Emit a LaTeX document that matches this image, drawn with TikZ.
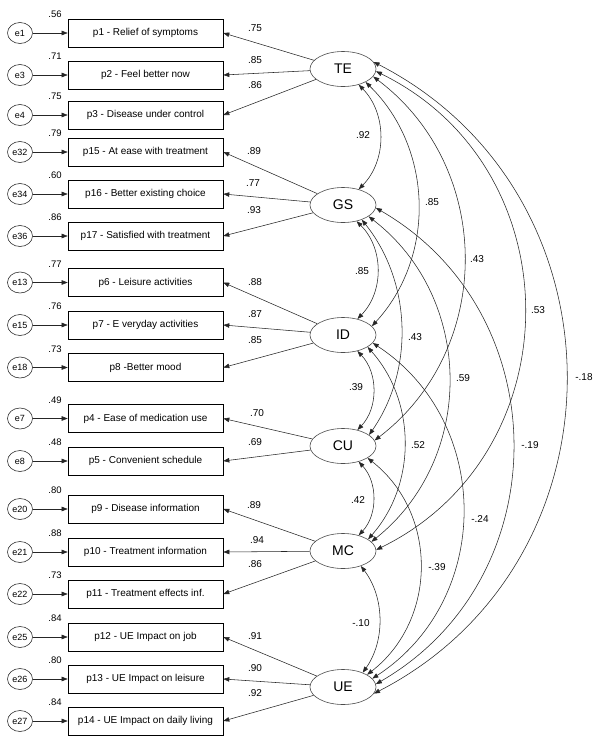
\documentclass[tikz,border=0pt]{standalone}
\usepackage{fontspec}
\setmainfont{Liberation Sans}
\usetikzlibrary{shapes.geometric,arrows.meta}
\tikzset{
  obs/.style={draw=black, line width=0.6pt, minimum width=155pt, minimum height=28pt, inner sep=0pt, font=\fontsize{10}{12}\selectfont},
  errc/.style={draw=black!80, ellipse, line width=0.6pt, minimum width=25pt, minimum height=21pt, inner sep=0pt, font=\fontsize{9}{11}\selectfont},
  lat/.style={draw=black!70, ellipse, line width=0.6pt, minimum width=66pt, minimum height=35pt, inner sep=0pt, font=\fontsize{14}{16}\selectfont},
  num/.style={inner sep=0pt, font=\fontsize{9.5}{11}\selectfont},
  wnum/.style={inner sep=0pt, font=\fontsize{10}{12}\selectfont},
  arr/.style={draw=black!85, line width=0.55pt, -{Triangle[length=6pt,width=4.5pt]}},
  cov/.style={draw=black!85, line width=0.55pt, {Triangle[length=6pt,width=4.5pt]}-{Triangle[length=6pt,width=4.5pt]}},
}
\begin{document}
\begin{tikzpicture}[x=1pt,y=1pt]
\useasboundingbox (0,0) rectangle (600,-740);
% latent variables
\node[lat] (TE) at (343,-69) {TE};
\node[lat] (GS) at (343,-205) {GS};
\node[lat] (ID) at (343,-335) {ID};
\node[lat] (CU) at (343,-446) {CU};
\node[lat] (MC) at (343,-551) {MC};
\node[lat] (UE) at (343,-687) {UE};
% observed variables, errors, SMC, loadings
\foreach \e/\p/\y/\t/\s/\l in {
  e1/p1/33/p1 - Relief of symptoms/.56/TE,
  e3/p2/75/p2 - Feel better now/.71/TE,
  e4/p3/115/p3 - Disease under control/.75/TE,
  e32/p15/152/p15 - At ease with treatment/.79/GS,
  e34/p16/194/p16 - Better existing choice/.60/GS,
  e36/p17/236/p17 - Satisfied with treatment/.86/GS,
  e13/p6/282.5/p6 - Leisure activities/.77/ID,
  e15/p7/325/p7 - E veryday activities/.76/ID,
  e18/p8/367.5/p8 -Better mood/.73/ID,
  e7/p4/418.5/p4 - Ease of medication use/.49/CU,
  e8/p5/461/p5 - Convenient schedule/.48/CU,
  e20/p9/509/p9 - Disease information/.80/MC,
  e21/p10/552/p10 - Treatment information/.88/MC,
  e22/p11/594/p11 - Treatment effects inf./.73/MC,
  e25/p12/637/p12 - UE Impact on job/.84/UE,
  e26/p13/679/p13 - UE Impact on leisure/.80/UE,
  e27/p14/721/p14 - UE Impact on daily living/.84/UE}{
  \node[obs] (\p) at (145.5,-\y) {\t};
  \node[errc] (\e) at (20,-\y) {\e};
  \node[num] (r\p) at (55,-\y+18.5) {\s};
  \draw[arr] (\e) -- (\p);
  \draw[arr] (\l) -- (\p.east);
}
% loading labels
\foreach \n/\x/\y/\v in {
  a1/255/28/.75, a2/255/60/.85, a3/255/85/.86,
  a4/254/151/.89, a5/253/183/.77, a6/254/210/.93,
  a7/255/282/.88, a8/255/314/.87, a9/255/340/.85,
  a10/257/413/.70, a11/255/442/.69,
  a12/254/505/.89, a13/257/540/.94, a14/255/564/.86,
  a15/255/636/.91, a16/255/668/.90, a17/255/693/.92}{
  \node[wnum] (\n) at (\x,-\y) {\v};
}
% covariances
\draw[cov] (TE.-45) to[bend left=44.6, looseness=0.99] (GS.45);
\draw[cov] (TE.-30) to[bend left=44.1, looseness=0.99] (ID.17);
\draw[cov] (TE.-14) to[bend left=52.8, looseness=1.06] (CU.10);
\draw[cov] (TE.-4) to[bend left=63.9, looseness=1.18] (MC.2);
\draw[cov] (TE.13) to[bend left=62.8, looseness=1.17] (UE.-12);
\draw[cov] (GS.-50) to[bend left=44.7, looseness=1.0] (ID.48);
\draw[cov] (GS.-38) to[bend left=36.7, looseness=0.945] (CU.23);
\draw[cov] (GS.-24) to[bend left=51.9, looseness=1.05] (MC.18);
\draw[cov] (GS.-5) to[bend left=60, looseness=1.135] (UE.5);
\draw[cov] (ID.-48) to[bend left=43.4, looseness=0.986] (CU.48);
\draw[cov] (ID.-26) to[bend left=41.5, looseness=0.974] (MC.25);
\draw[cov] (ID.-15) to[bend left=56.8, looseness=1.1] (UE.16);
\draw[cov] (CU.-45) to[bend left=42.8, looseness=0.98] (MC.45);
\draw[cov] (CU.-26) to[bend left=52, looseness=1.054] (UE.27);
\draw[cov] (MC.-40) to[bend left=36.2, looseness=0.94] (UE.36);
% covariance labels
\foreach \n/\x/\y/\v in {
  c1/363/135/.92, c2/432/202/.85, c3/477/259/.43, c4/538/310/.53, c5/584/377/-.18,
  c6/362/271/.85, c7/415/337/.43, c8/463/378/.59, c9/530/445/-.19,
  c10/356/387/.39, c11/418/445/.52, c12/480/519/-.24,
  c13/358/500/.42, c14/437/567/-.39, c15/361/623/-.10}{
  \node[wnum] (\n) at (\x,-\y) {\v};
}
\end{tikzpicture}
\end{document}
